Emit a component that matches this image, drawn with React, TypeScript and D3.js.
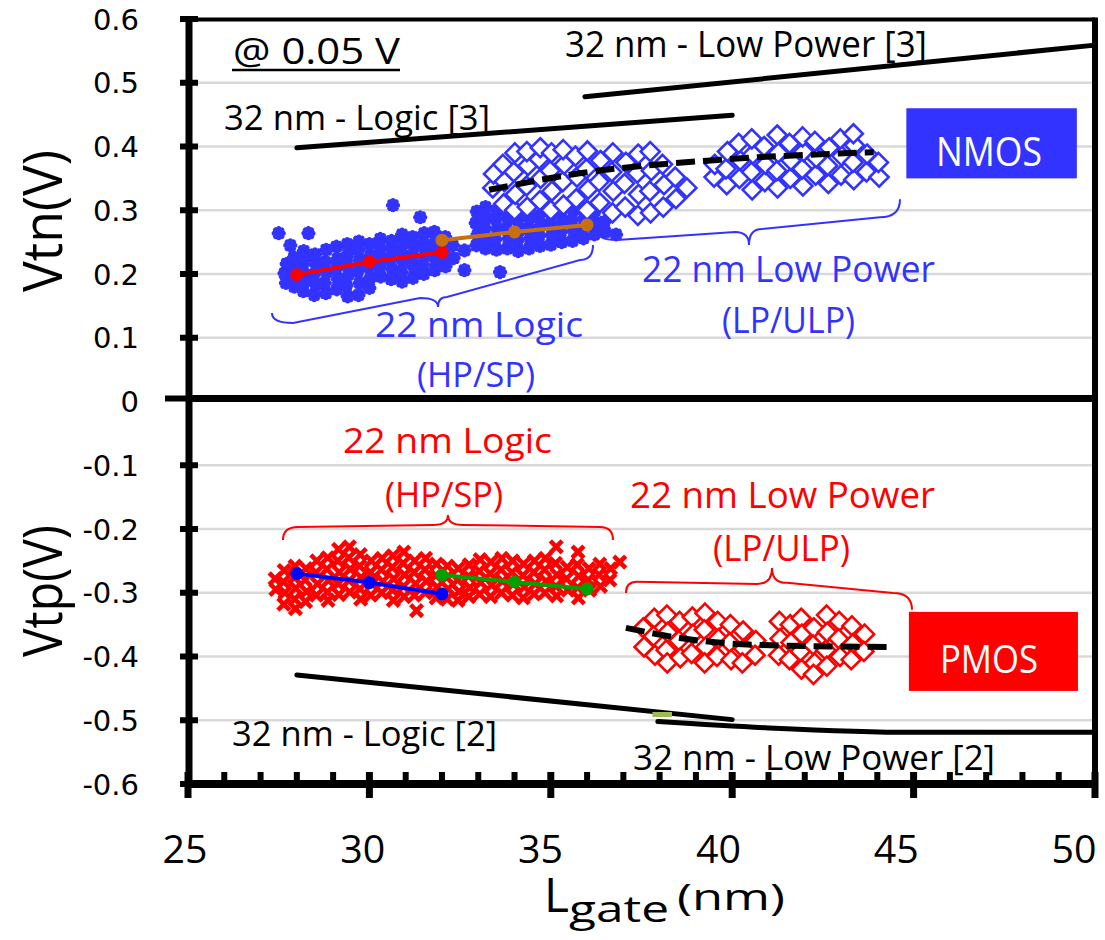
import React from "react";
import * as d3 from "d3";

const WIDTH = 1105;
const HEIGHT = 940;

// ---- axes ----
const xMajorTicks = [25, 30, 35, 40, 45, 50];
const xTickLabels = ["25", "30", "35", "40", "45", "50"];
const xMinorTicks = [26, 27, 28, 29, 31, 32, 33, 34, 36, 37, 38, 39, 41, 42, 43, 44, 46, 47, 48, 49];
const yTicks = [0.6, 0.5, 0.4, 0.3, 0.2, 0.1, 0, -0.1, -0.2, -0.3, -0.4, -0.5, -0.6];
const yTickLabels = ["0.6", "0.5", "0.4", "0.3", "0.2", "0.1", "0", "-0.1", "-0.2", "-0.3", "-0.4", "-0.5", "-0.6"];
const gridValues = [0.5, 0.4, 0.3, 0.2, 0.1, -0.1, -0.2, -0.3, -0.4, -0.5];

// ---- NMOS 22nm logic (filled blue stars) ----
const nmosLogicA: number[][] = [
  [27.70, 0.186], [27.66, 0.201], [27.72, 0.216],
  [27.93, 0.180], [27.90, 0.196], [27.95, 0.211], [27.92, 0.226],
  [28.18, 0.173], [28.22, 0.189], [28.17, 0.205], [28.21, 0.221], [28.19, 0.236],
  [28.48, 0.167], [28.52, 0.183], [28.47, 0.199], [28.53, 0.214], [28.50, 0.231],
  [28.80, 0.170], [28.77, 0.186], [28.82, 0.203], [28.78, 0.219], [28.81, 0.238],
  [29.10, 0.176], [29.13, 0.192], [29.08, 0.208], [29.12, 0.224], [29.09, 0.243],
  [29.40, 0.165], [29.37, 0.182], [29.42, 0.199], [29.38, 0.215], [29.41, 0.232], [29.39, 0.247],
  [29.70, 0.167], [29.73, 0.186], [29.68, 0.204], [29.72, 0.221], [29.69, 0.238], [29.71, 0.251],
  [30.00, 0.178], [30.03, 0.195], [29.98, 0.212], [30.02, 0.229], [30.00, 0.247],
  [30.31, 0.196], [30.28, 0.211], [30.32, 0.226], [30.29, 0.242], [30.30, 0.255],
  [30.60, 0.192], [30.63, 0.207], [30.58, 0.222], [30.62, 0.238], [30.61, 0.252],
  [30.90, 0.188], [30.88, 0.203], [30.93, 0.219], [30.89, 0.235], [30.92, 0.250], [30.90, 0.262],
  [31.20, 0.194], [31.23, 0.210], [31.18, 0.226], [31.22, 0.242], [31.19, 0.258],
  [31.50, 0.200], [31.48, 0.215], [31.53, 0.231], [31.49, 0.247], [31.51, 0.264],
  [31.80, 0.206], [31.83, 0.221], [31.78, 0.236], [31.82, 0.252], [31.79, 0.266],
  [32.10, 0.212], [32.08, 0.228], [32.12, 0.244], [32.09, 0.258],
  [32.32, 0.225], [32.30, 0.245],
  [27.50, 0.264], [28.32, 0.264], [27.82, 0.245], [30.65, 0.308], [31.40, 0.289], [32.62, 0.237], [32.62, 0.206],
];
const nmosLogicB: number[][] = [
  [32.95, 0.245], [32.98, 0.262], [32.93, 0.280], [32.96, 0.298],
  [33.20, 0.240], [33.23, 0.256], [33.18, 0.272], [33.22, 0.288], [33.20, 0.305],
  [33.50, 0.238], [33.47, 0.254], [33.52, 0.270], [33.49, 0.286], [33.51, 0.300],
  [33.80, 0.240], [33.83, 0.256], [33.78, 0.272], [33.82, 0.288], [33.80, 0.298],
  [34.10, 0.236], [34.08, 0.252], [34.12, 0.268], [34.09, 0.284], [34.11, 0.297],
  [34.40, 0.240], [34.43, 0.256], [34.38, 0.272], [34.42, 0.288],
  [34.70, 0.244], [34.68, 0.260], [34.72, 0.276], [34.69, 0.292],
  [35.00, 0.246], [35.03, 0.262], [34.98, 0.278], [35.02, 0.293],
  [35.30, 0.250], [35.28, 0.266], [35.32, 0.282], [35.29, 0.298],
  [35.60, 0.252], [35.63, 0.268], [35.58, 0.284], [35.62, 0.300],
  [35.90, 0.256], [35.88, 0.272], [35.92, 0.288], [35.89, 0.303],
  [36.20, 0.262], [36.23, 0.278], [36.18, 0.294],
  [36.50, 0.266], [36.48, 0.282], [36.80, 0.262], [33.60, 0.203],
];

// ---- NMOS 22nm low power (open blue diamonds) ----
const nmosLP1: number[][] = [
  [33.40, 0.335], [33.42, 0.357],
  [33.70, 0.310], [33.72, 0.345], [33.68, 0.372],
  [34.00, 0.300], [34.02, 0.325], [33.98, 0.360], [34.01, 0.390],
  [34.35, 0.305], [34.33, 0.338], [34.37, 0.370], [34.34, 0.392],
  [34.70, 0.315], [34.72, 0.350], [34.68, 0.380], [34.71, 0.398],
  [35.00, 0.300], [35.03, 0.330], [34.98, 0.362], [35.02, 0.390],
  [35.35, 0.308], [35.33, 0.345], [35.37, 0.372], [35.34, 0.395],
  [35.70, 0.318], [35.72, 0.352], [35.68, 0.385],
  [36.00, 0.300], [36.03, 0.333], [35.98, 0.365], [36.01, 0.393],
  [36.35, 0.312], [36.33, 0.345], [36.37, 0.378],
  [36.70, 0.296], [36.72, 0.330], [36.68, 0.360], [36.71, 0.390],
  [37.05, 0.305], [37.03, 0.342], [37.07, 0.375],
  [37.40, 0.292], [37.42, 0.325], [37.38, 0.358], [37.41, 0.388],
  [37.75, 0.296], [37.73, 0.330], [37.77, 0.362], [37.74, 0.392],
  [38.10, 0.305], [38.12, 0.340], [38.08, 0.372],
  [38.45, 0.318], [38.43, 0.352], [38.75, 0.335],
];
const nmosLP2: number[][] = [
  [39.50, 0.352], [39.52, 0.372],
  [39.85, 0.340], [39.83, 0.365], [39.87, 0.392],
  [40.20, 0.350], [40.22, 0.378], [40.18, 0.405],
  [40.55, 0.332], [40.53, 0.360], [40.57, 0.388], [40.54, 0.412],
  [40.90, 0.345], [40.92, 0.372], [40.88, 0.400],
  [41.25, 0.335], [41.23, 0.362], [41.27, 0.390], [41.24, 0.418],
  [41.60, 0.350], [41.62, 0.378], [41.58, 0.405],
  [41.95, 0.338], [41.93, 0.365], [41.97, 0.392], [41.94, 0.415],
  [42.30, 0.355], [42.32, 0.382], [42.28, 0.408],
  [42.65, 0.342], [42.63, 0.370], [42.67, 0.398],
  [43.00, 0.355], [43.02, 0.385], [42.98, 0.412],
  [43.35, 0.348], [43.33, 0.375], [43.37, 0.402], [43.34, 0.420],
  [43.70, 0.360], [43.72, 0.388], [44.05, 0.352], [44.03, 0.375],
];

// ---- PMOS 22nm logic (red crosses) ----
const pmosLogic: number[][] = [
  [27.40, -0.278], [27.42, -0.295],
  [27.65, -0.265], [27.63, -0.283], [27.67, -0.300], [27.64, -0.318],
  [27.95, -0.258], [27.93, -0.276], [27.97, -0.293], [27.94, -0.310], [27.96, -0.325],
  [28.25, -0.262], [28.23, -0.280], [28.27, -0.298], [28.24, -0.314],
  [28.55, -0.250], [28.53, -0.268], [28.57, -0.286], [28.54, -0.304],
  [28.85, -0.245], [28.83, -0.263], [28.87, -0.281], [28.84, -0.299], [28.86, -0.312],
  [29.15, -0.232], [29.13, -0.250], [29.17, -0.268], [29.14, -0.286], [29.16, -0.303],
  [29.45, -0.228], [29.43, -0.245], [29.47, -0.263], [29.44, -0.281], [29.46, -0.299],
  [29.75, -0.240], [29.73, -0.258], [29.77, -0.276], [29.74, -0.294], [29.76, -0.310],
  [30.05, -0.250], [30.03, -0.268], [30.07, -0.286], [30.04, -0.304],
  [30.35, -0.246], [30.33, -0.264], [30.37, -0.282], [30.34, -0.300],
  [30.65, -0.242], [30.63, -0.260], [30.67, -0.278], [30.64, -0.296], [30.66, -0.312],
  [30.95, -0.236], [30.93, -0.254], [30.97, -0.272], [30.94, -0.290], [30.96, -0.306],
  [31.25, -0.250], [31.23, -0.268], [31.27, -0.286], [31.24, -0.304], [31.30, -0.328],
  [31.55, -0.246], [31.53, -0.264], [31.57, -0.282], [31.54, -0.300],
  [31.85, -0.255], [31.83, -0.273], [31.87, -0.291], [31.84, -0.308],
  [32.15, -0.258], [32.13, -0.276], [32.17, -0.294], [32.14, -0.310],
  [32.45, -0.262], [32.43, -0.280], [32.47, -0.298], [32.44, -0.312],
  [32.75, -0.256], [32.73, -0.274], [32.77, -0.292], [32.74, -0.306],
  [33.05, -0.248], [33.03, -0.266], [33.07, -0.284], [33.04, -0.302],
  [33.35, -0.252], [33.33, -0.270], [33.37, -0.288], [33.34, -0.306],
  [33.65, -0.246], [33.63, -0.264], [33.67, -0.282], [33.64, -0.300],
  [33.95, -0.250], [33.93, -0.268], [33.97, -0.286], [33.94, -0.304],
  [34.25, -0.255], [34.23, -0.273], [34.27, -0.291], [34.24, -0.308],
  [34.55, -0.250], [34.53, -0.268], [34.57, -0.286], [34.54, -0.302],
  [34.85, -0.246], [34.83, -0.264], [34.87, -0.282], [34.84, -0.300],
  [35.15, -0.228], [35.13, -0.254], [35.17, -0.272], [35.14, -0.290], [35.16, -0.305],
  [35.45, -0.260], [35.43, -0.278], [35.47, -0.296],
  [35.75, -0.236], [35.73, -0.256], [35.77, -0.274], [35.74, -0.292], [35.76, -0.308],
  [36.05, -0.262], [36.03, -0.280], [36.07, -0.296],
  [36.35, -0.255], [36.33, -0.272], [36.37, -0.290],
  [36.65, -0.262], [36.63, -0.280], [36.90, -0.252],
];

// ---- PMOS 22nm low power (open red diamonds) ----
const pmosLP1: number[][] = [
  [37.55, -0.355], [37.57, -0.385],
  [37.85, -0.340], [37.83, -0.368], [37.87, -0.398],
  [38.20, -0.335], [38.22, -0.362], [38.18, -0.390], [38.21, -0.410],
  [38.55, -0.345], [38.53, -0.375], [38.57, -0.402],
  [38.90, -0.338], [38.92, -0.365], [38.88, -0.395],
  [39.25, -0.332], [39.23, -0.358], [39.27, -0.385], [39.24, -0.410],
  [39.60, -0.345], [39.62, -0.372], [39.58, -0.400],
  [39.95, -0.350], [39.93, -0.378], [39.97, -0.405],
  [40.30, -0.360], [40.32, -0.388], [40.28, -0.410],
  [40.65, -0.375], [40.63, -0.398],
];
const pmosLP2: number[][] = [
  [41.30, -0.345], [41.32, -0.372], [41.28, -0.398],
  [41.60, -0.350], [41.62, -0.378], [41.58, -0.405],
  [41.90, -0.340], [41.92, -0.365], [41.88, -0.392], [41.91, -0.420],
  [42.25, -0.355], [42.23, -0.382], [42.27, -0.410], [42.24, -0.428],
  [42.60, -0.335], [42.62, -0.362], [42.58, -0.390], [42.61, -0.415],
  [42.95, -0.345], [42.93, -0.372], [42.97, -0.400],
  [43.30, -0.352], [43.32, -0.380], [43.28, -0.405],
  [43.65, -0.365], [43.63, -0.392],
];

// ---- mean lines ----
const nmosRedLine: number[][] = [[28, 0.199], [30, 0.219], [32, 0.234]];
const nmosOrangeLine: number[][] = [[32, 0.253], [34, 0.266], [36, 0.277]];
const pmosBlueLine: number[][] = [[28, -0.270], [30, -0.284], [32, -0.302]];
const pmosGreenLine: number[][] = [[32, -0.272], [34, -0.283], [36, -0.294]];

// ---- trend / reference lines ----
const nmosLPTrend: number[][] = [[33.3, 0.332], [35.8, 0.358], [39.6, 0.379], [43.9, 0.391]];
const pmosLPTrend: number[][] = [[37.07, -0.355], [38.56, -0.371], [40.77, -0.382], [44.4, -0.385]];
const nmos32Logic: number[][] = [[28, 0.398], [40, 0.449]];
const nmos32LP: number[][] = [[35.94, 0.478], [50, 0.559]];
const pmos32Logic: number[][] = [[28, -0.429], [40, -0.499]];
const pmos32LP: number[][] = [[37.95, -0.502], [41, -0.512], [45, -0.519], [50, -0.519]];
const pmosGreenStub: number[][] = [[37.8, -0.491], [38.34, -0.491]];

// ---- braces (start, corner, tip-left, tip, tip-right, corner, end) ----
const braceNLogic: number[][] = [[27.315, 0.1388], [27.894, 0.1231], [31.395, 0.1623], [31.891, 0.1482], [32.139, 0.1639], [35.805, 0.2219], [36.163, 0.2454]];
const braceNLP: number[][] = [[36.273, 0.2689], [36.825, 0.2532], [40.077, 0.2657], [40.463, 0.2453], [40.821, 0.2704], [44.074, 0.2892], [44.625, 0.3174]];
const bracePLogic: number[][] = [[27.618, -0.2171], [28.032, -0.1967], [31.753, -0.1936], [32.166, -0.1779], [32.58, -0.1936], [36.356, -0.1967], [36.714, -0.2171]];
const bracePLP: number[][] = [[37.073, -0.3002], [37.376, -0.2829], [40.684, -0.2861], [41.097, -0.261], [41.51, -0.2845], [44.432, -0.3002], [44.956, -0.3268]];

const BLUE = "#3333FF";
const RED = "#FF0000";
const FONT = "'Open Sans', 'Noto Sans', sans-serif";

const STAR = "M-4.6,0L4.6,0M0,-4.6L0,4.6M-3.3,-3.3L3.3,3.3M-3.3,3.3L3.3,-3.3";
const CROSS = "M-4.3,-4.3L4.3,4.3M-4.3,4.3L4.3,-4.3";
const DIAMOND = "M0,-9.5L9.5,0L0,9.5L-9.5,0Z";

type TProps = { x: number; y: number; fs: number; len: number; fill?: string; children: React.ReactNode };
const Lbl = ({ x, y, fs, len, fill = "#000", children }: TProps) => (
  <text x={x} y={y} fontSize={fs} textLength={len} lengthAdjust="spacingAndGlyphs" fill={fill} fontFamily={FONT}>
    {children}
  </text>
);

export default function App() {
  const x = d3.scaleLinear().domain([25, 50]).range([188, 1095]);
  const y = d3.scaleLinear().domain([-0.6, 0.6]).range([784, 19]);
  // tick labels in the reference sit on a slightly tighter spacing than the ticks
  const xLabel = d3.scaleLinear().domain([25, 50]).range([185, 1074]);
  const line = d3.line<number[]>().x((d) => x(d[0])).y((d) => y(d[1]));
  const smooth = d3.line<number[]>().x((d) => x(d[0])).y((d) => y(d[1])).curve(d3.curveMonotoneX);

  const brace = (pts: number[][]) => {
    const [s, c1, a, t, b, c2, e] = pts.map((p) => [x(p[0]), y(p[1])]);
    return `M${s}Q${s[0]},${c1[1]} ${c1}L${a}Q${t[0]},${a[1]} ${t}Q${t[0]},${b[1]} ${b}L${c2}Q${e[0]},${c2[1]} ${e}`;
  };

  const markerLine = (data: number[][], color: string, key: string) => (
    <g key={key}>
      <path d={line(data) || ""} fill="none" stroke={color} strokeWidth={4} />
      {data.map((d, i) => (
        <circle key={i} cx={x(d[0])} cy={y(d[1])} r={6.5} fill={color} />
      ))}
    </g>
  );

  return (
    <svg width={WIDTH} height={HEIGHT} style={{ position: "absolute", left: 0, top: 0, background: "#fff" }}>
      <rect width={WIDTH} height={HEIGHT} fill="#fff" />
      {/* grid */}
      {gridValues.map((v) => (
        <line key={v} x1={x(25)} x2={x(50)} y1={y(v)} y2={y(v)} stroke="#D9D9D9" strokeWidth={2.5} />
      ))}

      {/* scatter: filled stars */}
      <g stroke={BLUE} strokeWidth={5} strokeLinecap="round" fill={BLUE}>
        {[...nmosLogicA, ...nmosLogicB].map((d, i) => (
          <g key={i} transform={`translate(${x(d[0])},${y(d[1])})`}>
            <circle r={4.6} stroke="none" />
            <path d={STAR} fill="none" />
          </g>
        ))}
      </g>
      {/* diamonds */}
      <g stroke={BLUE} strokeWidth={2.6} fill="#fff">
        {[...nmosLP1, ...nmosLP2].map((d, i) => (
          <path key={i} d={DIAMOND} transform={`translate(${x(d[0])},${y(d[1])})`} />
        ))}
      </g>
      <g stroke={RED} strokeWidth={4.6} strokeLinecap="square" fill="none">
        {pmosLogic.map((d, i) => (
          <path key={i} d={CROSS} transform={`translate(${x(d[0])},${y(d[1])})`} />
        ))}
      </g>
      <g stroke={RED} strokeWidth={2.6} fill="#fff">
        {[...pmosLP1, ...pmosLP2].map((d, i) => (
          <path key={i} d={DIAMOND} transform={`translate(${x(d[0])},${y(d[1])})`} />
        ))}
      </g>

      {/* mean lines */}
      {markerLine(nmosRedLine, "#FF0000", "r")}
      {markerLine(nmosOrangeLine, "#C8700F", "o")}
      {markerLine(pmosBlueLine, "#0000FF", "b")}
      {markerLine(pmosGreenLine, "#00A000", "g")}

      {/* trends */}
      <path d={smooth(nmosLPTrend) || ""} fill="none" stroke="#000" strokeWidth={6} strokeDasharray="19,8" />
      <path d={smooth(pmosLPTrend) || ""} fill="none" stroke="#000" strokeWidth={6} strokeDasharray="19,8" />
      <path d={line(nmos32Logic) || ""} fill="none" stroke="#000" strokeWidth={5} strokeLinecap="round" />
      <path d={line(nmos32LP) || ""} fill="none" stroke="#000" strokeWidth={5} strokeLinecap="round" />
      <path d={line(pmos32Logic) || ""} fill="none" stroke="#000" strokeWidth={5} strokeLinecap="round" />
      <path d={line(pmosGreenStub) || ""} fill="none" stroke="#9BBB59" strokeWidth={5} />
      <path d={smooth(pmos32LP) || ""} fill="none" stroke="#000" strokeWidth={5} strokeLinecap="round" />

      {/* braces */}
      <path d={brace(braceNLogic)} fill="none" stroke={BLUE} strokeWidth={2} />
      <path d={brace(braceNLP)} fill="none" stroke={BLUE} strokeWidth={2} />
      <path d={brace(bracePLogic)} fill="none" stroke={RED} strokeWidth={2} />
      <path d={brace(bracePLP)} fill="none" stroke={RED} strokeWidth={2} />

      {/* boxes */}
      <rect x={x(44.8)} y={y(0.46)} width={x(49.5) - x(44.8)} height={y(0.35) - y(0.46)} fill={BLUE} />
      <rect x={x(44.87)} y={y(-0.33)} width={x(49.53) - x(44.87)} height={y(-0.454) - y(-0.33)} fill={RED} />
      <Lbl x={936} y={166} fs={40} len={106} fill="#fff">NMOS</Lbl>
      <Lbl x={940} y={673} fs={39} len={98} fill="#fff">PMOS</Lbl>

      {/* annotations */}
      <Lbl x={233} y={64} fs={37} len={167}>@ 0.05 V</Lbl>
      <line x1={232} x2={400} y1={70} y2={70} stroke="#000" strokeWidth={2.5} />
      <Lbl x={565} y={57} fs={37} len={362}>32 nm - Low Power [3]</Lbl>
      <Lbl x={224} y={130} fs={35} len={266}>32 nm - Logic [3]</Lbl>
      <Lbl x={375} y={337} fs={35} len={208} fill={BLUE}>22 nm Logic</Lbl>
      <Lbl x={417} y={387} fs={35} len={118} fill={BLUE}>(HP/SP)</Lbl>
      <Lbl x={642} y={282} fs={37} len={293} fill={BLUE}>22 nm Low Power</Lbl>
      <Lbl x={722} y={333} fs={37} len={133} fill={BLUE}>(LP/ULP)</Lbl>
      <Lbl x={343} y={453} fs={35} len={209} fill={RED}>22 nm Logic</Lbl>
      <Lbl x={385} y={507} fs={35} len={118} fill={RED}>(HP/SP)</Lbl>
      <Lbl x={630} y={508} fs={36} len={305} fill={RED}>22 nm Low Power</Lbl>
      <Lbl x={713} y={561} fs={36} len={137} fill={RED}>(LP/ULP)</Lbl>
      <Lbl x={232} y={746} fs={35} len={265}>32 nm - Logic [2]</Lbl>
      <Lbl x={633} y={770} fs={35} len={362}>32 nm - Low Power [2]</Lbl>

      {/* frame */}
      <line x1={188} x2={1095} y1={19.5} y2={19.5} stroke="#000" strokeWidth={4} />
      <line x1={1095} x2={1095} y1={17.5} y2={788} stroke="#000" strokeWidth={6} />
      <line x1={189} x2={1095} y1={y(0) - 3} y2={y(0) - 3} stroke="#000" strokeWidth={7} />
      <line x1={185} x2={1098} y1={784} y2={784} stroke="#000" strokeWidth={8} />
      <line x1={189} x2={189} y1={17.5} y2={788} stroke="#000" strokeWidth={7} />

      {/* y ticks */}
      {yTicks.map((v, i) => (
        <g key={v}>
          <line x1={v === 0 ? 165 : 180} x2={198} y1={v === 0 ? y(v) - 3 : y(v)} y2={v === 0 ? y(v) - 3 : y(v)} stroke="#000" strokeWidth={6} />
          <text x={139} y={y(v) + 10.5} textAnchor="end" fontSize={29} fontFamily="'DejaVu Sans', sans-serif" fill="#000">
            {yTickLabels[i]}
          </text>
        </g>
      ))}
      {/* x ticks */}
      {xMinorTicks.map((v) => (
        <line key={v} x1={x(v)} x2={x(v)} y1={772} y2={784} stroke="#000" strokeWidth={6} />
      ))}
      {xMajorTicks.map((v, i) => (
        <g key={v}>
          <line x1={x(v)} x2={x(v)} y1={772} y2={798} stroke="#000" strokeWidth={7} />
          <Lbl x={xLabel(v) - 22.5} y={863} fs={39} len={45}>{xTickLabels[i]}</Lbl>
        </g>
      ))}

      {/* axis titles */}
      <Lbl x={544} y={912} fs={47} len={25}>L</Lbl>
      <Lbl x={569} y={922} fs={37} len={100}>gate</Lbl>
      <Lbl x={677} y={910} fs={36} len={108}>(nm)</Lbl>
      <g transform="translate(62,221) rotate(-90)">
        <Lbl x={-71} y={0} fs={54} len={142}>Vtn(V)</Lbl>
      </g>
      <g transform="translate(62,591) rotate(-90)">
        <Lbl x={-66} y={0} fs={54} len={132}>Vtp(V)</Lbl>
      </g>
    </svg>
  );
}
